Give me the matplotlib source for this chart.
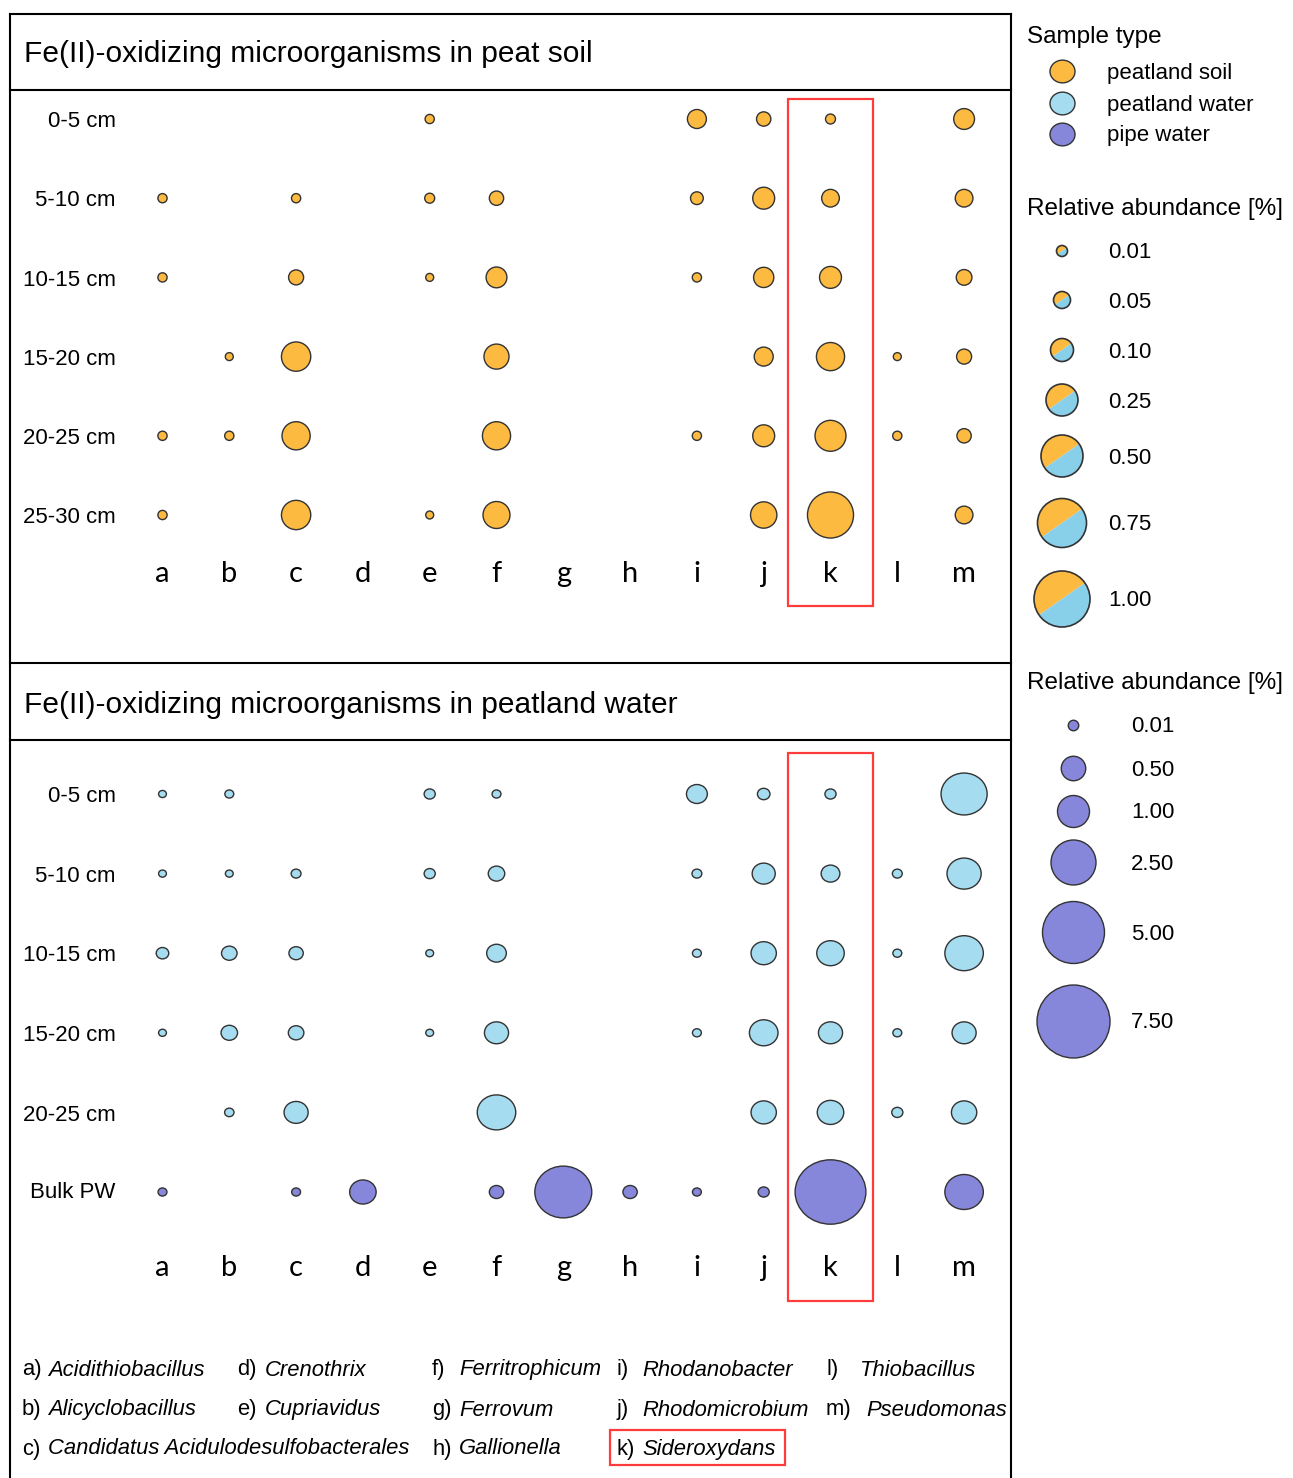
import numpy as np
import matplotlib.pyplot as plt
from matplotlib.patches import Rectangle, Wedge, Circle
from matplotlib.path import Path

plt.rcParams['font.family'] = ['Liberation Sans', 'DejaVu Sans']

# --- data ---
letters = list('abcdefghijklm')
genera = ['Acidithiobacillus', 'Alicyclobacillus', 'Candidatus Acidulodesulfobacterales',
          'Crenothrix', 'Cupriavidus', 'Ferritrophicum', 'Ferrovum', 'Gallionella',
          'Rhodanobacter', 'Rhodomicrobium', 'Sideroxydans', 'Thiobacillus', 'Pseudomonas']
highlight = 'k'

soil_depths = ['0-5 cm', '5-10 cm', '10-15 cm', '15-20 cm', '20-25 cm', '25-30 cm']
water_depths = ['0-5 cm', '5-10 cm', '10-15 cm', '15-20 cm', '20-25 cm', 'Bulk PW']

n = np.nan
# relative abundance [%] in peat soil (rows = depth, columns = a..m)
soil = np.array([
    [n, n, n, n, 0.005, n, n, n, 0.065, 0.03, 0.007, n, 0.08],
    [0.005, n, 0.005, n, 0.007, 0.03, n, n, 0.02, 0.09, 0.055, n, 0.055],
    [0.005, n, 0.035, n, 0.002, 0.08, n, n, 0.005, 0.075, 0.09, n, 0.04],
    [n, 0.002, 0.2, n, n, 0.13, n, n, n, 0.065, 0.18, 0.002, 0.035],
    [0.005, 0.005, 0.18, n, n, 0.18, n, n, 0.005, 0.09, 0.23, 0.005, 0.03],
    [0.005, n, 0.2, n, 0.002, 0.16, n, n, n, 0.15, 0.64, n, 0.055],
])
# relative abundance [%] in peatland water (first five depths)
water = np.array([
    [0.002, 0.004, n, n, 0.009, 0.004, n, n, 0.26, 0.03, 0.009, n, 2.1],
    [0.002, 0.002, 0.006, n, 0.009, 0.125, n, n, 0.006, 0.34, 0.19, 0.006, 0.93],
    [0.03, 0.1, 0.07, n, 0.002, 0.22, n, n, 0.004, 0.43, 0.53, 0.004, 1.3],
    [0.002, 0.125, 0.1, n, 0.002, 0.38, n, n, 0.004, 0.59, 0.38, 0.004, 0.38],
    [n, 0.005, 0.38, n, n, 1.3, n, n, n, 0.43, 0.48, 0.009, 0.43],
])
# bulk pipe water
pipe = np.array([0.004, n, 0.004, 0.48, n, 0.07, 3.4, 0.07, 0.004, 0.009, 5.5, n, 1.3])

sample_types = ['peatland soil', 'peatland water', 'pipe water']
soil_legend = [0.01, 0.05, 0.10, 0.25, 0.50, 0.75, 1.00]
water_legend = [0.01, 0.50, 1.00, 2.50, 5.00, 7.50]

ORANGE = '#FDBA40'
LBLUE = '#A5DCF0'
SBLUE = '#88CFEA'
PURPLE = '#8686DB'
EDGE = '#333333'
RED = '#FF3B3B'


# size scales: value -> diameter in px
def soil_diam(v):
    return np.sqrt(np.interp(v, [0] + soil_legend, [49, 121, 289, 529, 1024, 1764, 2401, 3136]))


def water_diam(v):
    return np.sqrt(np.interp(v, [0] + water_legend, [36, 110, 600, 1024, 2025, 3844, 5329]))


def px2s(d):
    return (d * 0.72) ** 2


W, H = 1293, 1478
fig = plt.figure(figsize=(W / 100, H / 100), dpi=100)

# background axes in pixel coords for frames, titles, legend, footnote
bg = fig.add_axes([0, 0, 1, 1])
bg.set_xlim(0, W)
bg.set_ylim(H, 0)
bg.axis('off')

lw = 1.5
for y in [14, 90, 663, 740]:
    bg.plot([10, 1011], [y, y], color='black', lw=lw)
bg.plot([10, 10], [14, H], color='black', lw=lw)
bg.plot([1011, 1011], [14, H], color='black', lw=lw)

bg.text(24, 54, 'Fe(II)-oxidizing microorganisms in peat soil', fontsize=21.5, va='center')
bg.text(24, 705, 'Fe(II)-oxidizing microorganisms in peatland water', fontsize=21.5, va='center')

COL0, COL_STEP = 162.5, 66.8


def panel(y0, y1, row0, row_step):
    ax = fig.add_axes([10 / W, 1 - y1 / H, 1001 / W, (y1 - y0) / H])
    ax.set_xlim((10 - COL0) / COL_STEP, (1011 - COL0) / COL_STEP)
    ax.set_ylim((y1 - row0) / row_step, (y0 - row0) / row_step)
    ax.axis('off')
    return ax


cols = np.arange(len(letters))
kidx = letters.index(highlight)
letter_font = ['Lato', 'DejaVu Sans']

# top panel: peat soil
ax1 = panel(90, 663, 119, 79.2)
for r, row in enumerate(soil):
    m = ~np.isnan(row)
    ax1.scatter(cols[m], np.full(m.sum(), r), s=px2s(soil_diam(row[m])),
                color=ORANGE, edgecolor=EDGE, linewidth=1.0, zorder=3)
for r, lab in enumerate(soil_depths):
    ax1.text(-0.70, r + 0.035, lab, ha='right', va='center', fontsize=16)
for c, lab in zip(cols, letters):
    ax1.text(c, 5.85, lab, ha='center', va='baseline', fontsize=21, family=letter_font)
ax1.add_patch(Rectangle((kidx - 0.63, -0.25), 1.26, 6.4, fill=False, ec=RED, lw=1.6, zorder=4))

# bottom panel: peatland water + pipe water
circ = Path.unit_circle()
ell = Path(circ.vertices * [1.1, 1.0], circ.codes)
ax2 = panel(740, H, 794, 79.6)
for r, row in enumerate(water):
    m = ~np.isnan(row)
    ax2.scatter(cols[m], np.full(m.sum(), r), s=px2s(1.1 * water_diam(row[m])), marker=ell,
                color=LBLUE, edgecolor=EDGE, linewidth=1.0, zorder=3)
m = ~np.isnan(pipe)
ax2.scatter(cols[m], np.full(m.sum(), len(water)), s=px2s(1.1 * water_diam(pipe[m])), marker=ell,
            color=PURPLE, edgecolor=EDGE, linewidth=1.0, zorder=3)
for r, lab in enumerate(water_depths):
    ax2.text(-0.70, r + (0.0 if lab == 'Bulk PW' else 0.035), lab, ha='right', va='center', fontsize=16)
for c, lab in zip(cols, letters):
    ax2.text(c, 6.06, lab, ha='center', va='baseline', fontsize=21, family=letter_font)
ax2.add_patch(Rectangle((kidx - 0.63, -0.515), 1.26, 6.885, fill=False, ec=RED, lw=1.6, zorder=4))

# legend: sample type
bg.text(1027, 37, 'Sample type', fontsize=17.5, va='center')
for y, lab, colr in zip([71, 103, 134], sample_types, [ORANGE, LBLUE, PURPLE]):
    bg.scatter([1062], [y], s=px2s(25), marker=ell, color=colr, edgecolor=EDGE, linewidth=1.0)
    bg.text(1107, y + 2, lab, fontsize=16, va='center')

# legend: soil abundance (split circles)
bg.text(1027, 209, 'Relative abundance [%]', fontsize=17.5, va='center')
for y, v in zip([251, 300, 350, 400, 456, 523, 599], soil_legend):
    rad = soil_diam(v) / 2
    bg.add_patch(Wedge((1062, y), rad, 145, 325, color=ORANGE, lw=0))
    bg.add_patch(Wedge((1062, y), rad, -35, 145, color=SBLUE, lw=0))
    bg.add_patch(Circle((1062, y), rad, fill=False, ec=EDGE, lw=1.2))
    bg.text(1108, y + 2, f'{v:.2f}', fontsize=16, va='center')

# legend: water abundance
bg.text(1027, 683, 'Relative abundance [%]', fontsize=17.5, va='center')
for y, v in zip([725, 768, 811, 862, 932, 1021], water_legend):
    bg.scatter([1073], [y], s=px2s(water_diam(v)), color=PURPLE, edgecolor=EDGE, linewidth=1.0)
    bg.text(1131, y + 2, f'{v:.2f}', fontsize=16, va='center')

# footnote with genus names
foot_x = [(22, 48), (22, 48), (22, 48), (237, 265), (237, 265), (432, 459), (432, 459),
          (432, 459), (616, 642), (616, 642), (616, 642), (826, 859), (826, 866)]
foot_row = [0, 1, 2, 0, 1, 0, 1, 2, 0, 1, 2, 0, 1]
foot_y = [1370, 1410, 1449]
for lab, name, (xl, xn), r in zip(letters, genera, foot_x, foot_row):
    bg.text(xl, foot_y[r], lab + ')', fontsize=15.8, va='center')
    bg.text(xn, foot_y[r], name, fontsize=15.8, va='center', style='italic')
bg.add_patch(Rectangle((610, 1430), 175, 35, fill=False, ec=RED, lw=1.6))

fig.savefig('out.png', dpi=100)
